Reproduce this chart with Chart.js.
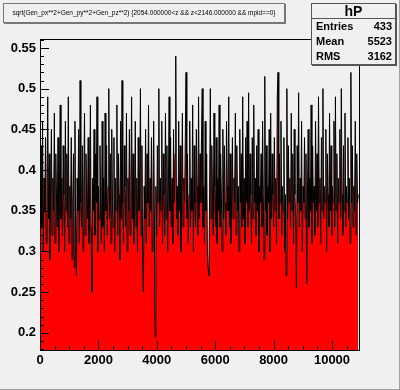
<!DOCTYPE html>
<html>
<head>
<meta charset="utf-8">
<script src="https://cdn.jsdelivr.net/npm/chart.js@4"></script>
<style>
    body { margin: 0; background: #f0f0f0; }
    #wrap { position: relative; width: 400px; height: 390px; background: #f0f0f0; box-sizing: border-box; border-right: 1px solid #a0a0a0; border-bottom: 1px solid #a0a0a0; }
    canvas { position: absolute; left: 0; top: 0; }
    .title-box {
        position: absolute; left: 3px; top: 3px; width: 280px; height: 18px;
        border: 1px solid #777; box-shadow: 1px 1px 0 #777; background: #f0f0f0;
        font: 6.5px "Liberation Sans", Arial, sans-serif; color: #000;
        text-align: center; line-height: 18px; white-space: nowrap;
    }
    .stats-box {
        position: absolute; left: 311px; top: 3px; width: 83px; height: 60px;
        border: 1px solid #555; box-shadow: 1px 1px 0 #555; background: #f0f0f0;
        font: bold 11px "Liberation Sans", Arial, sans-serif; color: #000;
    }
    .stats-box .head { text-align: center; font-size: 14px; height: 14px; line-height: 14px; border-bottom: 1px solid #555; }
    .stats-box .row { display: flex; justify-content: space-between; padding: 0 3px 0 4px; height: 15px; line-height: 15px; }
</style>
</head>
<body>
<div id="wrap">
    <canvas id="hP" width="400" height="390"></canvas>
    <div class="title-box">sqrt(Gen_px**2+Gen_py**2+Gen_pz**2) {2054.000000&lt;z &amp;&amp; z&lt;2146.000000 &amp;&amp; mpid==0}</div>
    <div class="stats-box">
        <div class="head">hP</div>
        <div class="row"><span>Entries</span><span>433</span></div>
        <div class="row"><span>Mean</span><span>5523</span></div>
        <div class="row"><span>RMS</span><span>3162</span></div>
    </div>
</div>
<script>
// one point per entry, evenly spaced along x
const binStart = 12.5;
const binWidth = 25.2;

// values (433 entries)
const values = [
    0.36, 0.43, 0.33, 0.46, 0.30, 0.39, 0.35, 0.44, 0.31, 0.38, 0.49, 0.34, 0.42, 0.29, 0.37, 0.45, 0.32, 0.39, 0.35, 0.47,
    0.31, 0.42, 0.36, 0.33, 0.44, 0.30, 0.38, 0.48, 0.34, 0.39, 0.32, 0.43, 0.37, 0.30, 0.46, 0.35, 0.42, 0.33, 0.49, 0.31,
    0.38, 0.34, 0.44, 0.29, 0.36, 0.42, 0.28, 0.46, 0.33, 0.27, 0.39, 0.35, 0.45, 0.31, 0.51, 0.36, 0.33, 0.43, 0.30, 0.38,
    0.47, 0.32, 0.42, 0.36, 0.34, 0.44, 0.31, 0.37, 0.48, 0.33, 0.25, 0.39, 0.35, 0.45, 0.32, 0.42, 0.36, 0.49, 0.30, 0.38,
    0.34, 0.43, 0.36, 0.31, 0.46, 0.33, 0.39, 0.30, 0.47, 0.35, 0.43, 0.32, 0.38, 0.50, 0.34, 0.42, 0.31, 0.45, 0.36, 0.33,
    0.44, 0.30, 0.39, 0.35, 0.48, 0.32, 0.42, 0.37, 0.29, 0.46, 0.34, 0.51, 0.36, 0.31, 0.43, 0.38, 0.33, 0.47, 0.30, 0.39,
    0.35, 0.45, 0.32, 0.38, 0.49, 0.34, 0.42, 0.31, 0.36, 0.46, 0.33, 0.39, 0.30, 0.44, 0.35, 0.37, 0.50, 0.32, 0.43, 0.29,
    0.25, 0.38, 0.34, 0.45, 0.31, 0.42, 0.36, 0.48, 0.33, 0.39, 0.35, 0.44, 0.30, 0.37, 0.46, 0.34, 0.195, 0.38, 0.32, 0.43,
    0.36, 0.50, 0.33, 0.39, 0.35, 0.46, 0.31, 0.42, 0.37, 0.32, 0.47, 0.34, 0.43, 0.30, 0.38, 0.49, 0.35, 0.44, 0.33, 0.39,
    0.31, 0.45, 0.36, 0.42, 0.54, 0.34, 0.38, 0.32, 0.46, 0.35, 0.43, 0.30, 0.37, 0.47, 0.33, 0.39, 0.36, 0.44, 0.52, 0.34,
    0.42, 0.31, 0.37, 0.46, 0.33, 0.39, 0.35, 0.48, 0.30, 0.43, 0.36, 0.33, 0.45, 0.38, 0.32, 0.49, 0.34, 0.42, 0.36, 0.44,
    0.50, 0.33, 0.38, 0.31, 0.46, 0.35, 0.42, 0.30, 0.28, 0.27, 0.37, 0.50, 0.34, 0.43, 0.36, 0.32, 0.47, 0.38, 0.33, 0.44,
    0.31, 0.39, 0.35, 0.48, 0.33, 0.42, 0.37, 0.30, 0.45, 0.34, 0.43, 0.36, 0.32, 0.46, 0.38, 0.35, 0.49, 0.33, 0.42, 0.31,
    0.37, 0.44, 0.34, 0.39, 0.36, 0.47, 0.32, 0.43, 0.35, 0.38, 0.30, 0.45, 0.36, 0.42, 0.33, 0.49, 0.34, 0.39, 0.31, 0.44,
    0.36, 0.46, 0.33, 0.495, 0.35, 0.42, 0.37, 0.31, 0.44, 0.34, 0.48, 0.36, 0.39, 0.32, 0.43, 0.35, 0.45, 0.30, 0.38, 0.36,
    0.42, 0.33, 0.46, 0.37, 0.29, 0.515, 0.35, 0.43, 0.32, 0.38, 0.36, 0.45, 0.30, 0.47, 0.34, 0.42, 0.37, 0.33, 0.44, 0.35,
    0.39, 0.31, 0.49, 0.52, 0.34, 0.42, 0.36, 0.46, 0.32, 0.38, 0.35, 0.44, 0.30, 0.37, 0.27, 0.50, 0.34, 0.43, 0.36, 0.39,
    0.33, 0.47, 0.35, 0.42, 0.31, 0.45, 0.37, 0.34, 0.255, 0.43, 0.36, 0.495, 0.33, 0.39, 0.35, 0.46, 0.30, 0.38, 0.36, 0.44,
    0.34, 0.42, 0.26, 0.37, 0.45, 0.33, 0.39, 0.35, 0.48, 0.31, 0.43, 0.36, 0.38, 0.32, 0.46, 0.35, 0.42, 0.33, 0.49, 0.36,
    0.39, 0.31, 0.44, 0.35, 0.50, 0.34, 0.38, 0.36, 0.45, 0.30, 0.42, 0.37, 0.33, 0.47, 0.35, 0.43, 0.32, 0.38, 0.36, 0.46,
    0.33, 0.49, 0.35, 0.42, 0.31, 0.39, 0.36, 0.45, 0.34, 0.50, 0.37, 0.32, 0.43, 0.35, 0.47, 0.33, 0.38, 0.36, 0.44, 0.34,
    0.39, 0.31, 0.52, 0.36, 0.43, 0.33, 0.38, 0.35, 0.46, 0.32, 0.42, 0.36, 0.37
];

const xTicks = [0, 2000, 4000, 6000, 8000, 10000];
const yTicks = [0.2, 0.25, 0.3, 0.35, 0.4, 0.45, 0.5, 0.55];
const xRange = [0, 10925];
const yRange = [0.179, 0.561];

const points = values.map((v, i) => ({ x: binStart + i * binWidth, y: v }));

// ROOT style frame with ticks pointing inwards
const frameTicks = {
    id: 'frameTicks',
    afterDatasetsDraw(chart) {
        const { ctx, chartArea: a, scales } = chart;
        ctx.save();
        ctx.strokeStyle = '#000';
        ctx.lineWidth = 1;
        ctx.beginPath();
        // x axis: major every 2000, minor every 500
        for (let v = 0; v <= xRange[1]; v += 500) {
            const px = Math.round(scales.x.getPixelForValue(v)) + 0.5;
            const len = v % 2000 === 0 ? 9 : 4;
            ctx.moveTo(px, a.bottom);
            ctx.lineTo(px, a.bottom - len);
        }
        // y axis: major every 0.05, minor every 0.01
        for (let k = 18; k <= 56; k++) {
            const py = Math.round(scales.y.getPixelForValue(k / 100)) + 0.5;
            const len = k % 5 === 0 ? 9 : 4;
            ctx.moveTo(a.left, py);
            ctx.lineTo(a.left + len, py);
        }
        ctx.stroke();
        ctx.strokeRect(Math.round(a.left) + 0.5, Math.round(a.top) + 0.5,
            Math.round(a.right - a.left), Math.round(a.bottom - a.top));
        ctx.restore();
    }
};

const tickFont = { family: '"Liberation Sans", Arial, sans-serif', size: 13, weight: 'bold' };

new Chart(document.getElementById('hP').getContext('2d'), {
    type: 'line',
    data: {
        datasets: [{
            data: points,
            borderColor: '#000000',
            borderWidth: 1,
            backgroundColor: '#ff0000',
            fill: 'start',
            pointRadius: 0,
            tension: 0
        }]
    },
    options: {
        responsive: false,
        animation: false,
        devicePixelRatio: 1,
        layout: { padding: { top: 39, right: 41, left: 0, bottom: 0 } },
        plugins: { legend: { display: false }, tooltip: { enabled: false } },
        scales: {
            x: {
                type: 'linear',
                min: xRange[0],
                max: xRange[1],
                grid: { display: false, drawTicks: false },
                border: { display: false },
                afterBuildTicks: s => { s.ticks = xTicks.map(v => ({ value: v })); },
                afterFit: s => { s.height = 40; },
                ticks: { color: '#000', font: tickFont, padding: 3, maxRotation: 0, autoSkip: false,
                    callback: v => String(v) }
            },
            y: {
                type: 'linear',
                min: yRange[0],
                max: yRange[1],
                grid: { display: false, drawTicks: false },
                border: { display: false },
                afterBuildTicks: s => { s.ticks = yTicks.map(v => ({ value: v })); },
                afterFit: s => { s.width = 40; },
                ticks: { color: '#000', font: tickFont, padding: 4, autoSkip: false,
                    callback: v => String(v) }
            }
        }
    },
    plugins: [frameTicks]
});
</script>
</body>
</html>
